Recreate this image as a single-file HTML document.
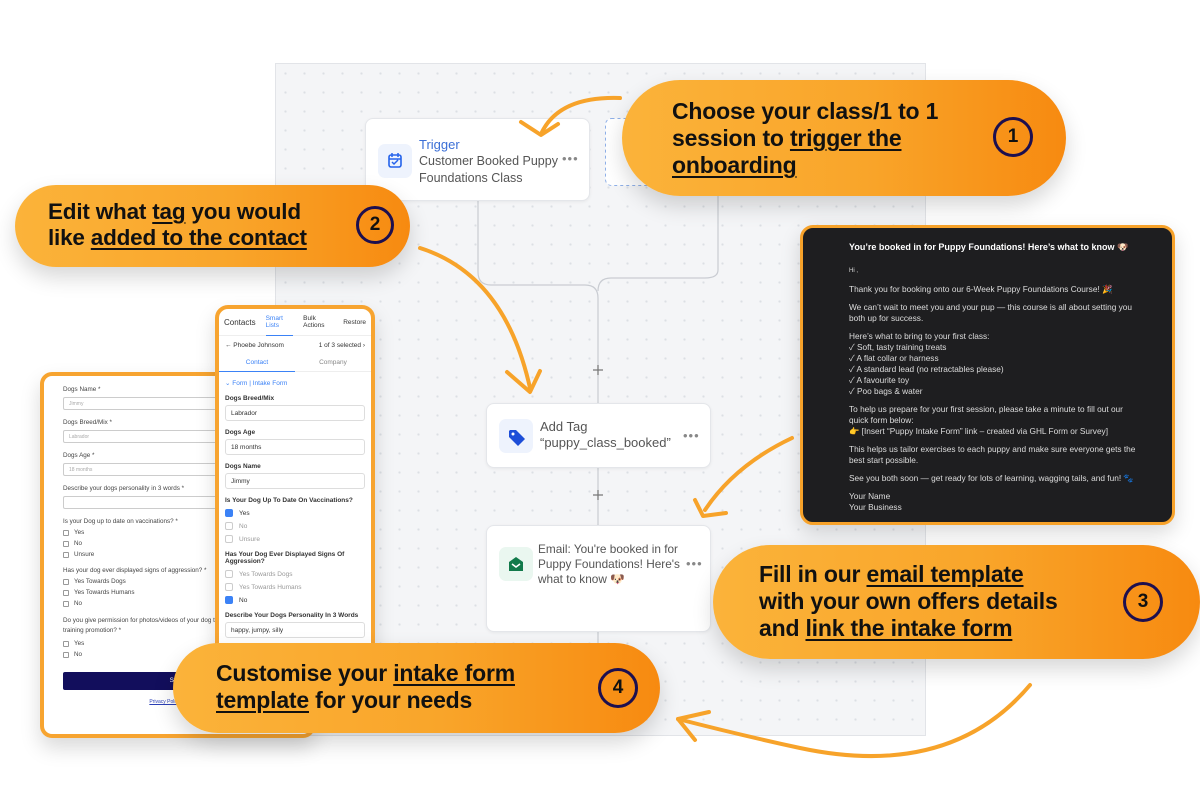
<!DOCTYPE html>
<html><head><meta charset="utf-8"><style>
*{box-sizing:border-box;margin:0;padding:0}
body{width:1200px;height:800px;background:#fff;position:relative;overflow:hidden;font-family:"Liberation Sans","Noto Sans CJK JP",sans-serif}
.abs{position:absolute}
.canvas{left:275px;top:63px;width:651px;height:673px;background-color:#f4f5f7;background-image:radial-gradient(#dcdfe4 1px,transparent 1.3px);background-size:19px 19px;border:1px solid #e2e4e8}
.card{background:#fff;border:1px solid #e4e6ea;border-radius:8px;box-shadow:0 1px 3px rgba(0,0,0,.06)}
.ic{position:absolute;width:34px;height:34px;border-radius:7px;background:#eef3fd}
.ct{position:absolute;font-size:12.5px;color:#555;line-height:17px}
.dots{position:absolute;color:#888;font-size:13px;letter-spacing:1px}
.pill{border-radius:60px;background:linear-gradient(90deg,#fbb33a 0%,#f9a52a 55%,#f78a10 100%);box-shadow:0 10px 22px rgba(0,0,0,.16)}
.pt{position:absolute;font-weight:bold;color:#111;font-size:23px;line-height:27px;letter-spacing:-.2px}
.pt u{text-decoration-thickness:2px;text-underline-offset:3px}
.num{position:absolute;width:40px;height:40px;border:3px solid #1d0f4f;border-radius:50%;text-align:center;font-weight:bold;font-size:19px;line-height:34px;color:#111}
.email{left:800px;top:225px;width:375px;height:300px;background:#1e1e20;border:3px solid #f7a22a;border-radius:13px;color:#ddd;font-size:8.3px;line-height:11px;padding:14px 0 0 46px;box-shadow:0 8px 20px rgba(0,0,0,.15)}
.email p{margin-bottom:7px}
.form{background:#fff;border:4px solid #f7a430;border-radius:12px;font-size:6.3px;color:#444;box-shadow:0 10px 20px rgba(0,0,0,.15)}
.inp{height:13px;border:1px solid #ccc;border-radius:2px;margin:4px 0 9px;font-size:5px;color:#aaa;padding:3px 5px}
.cb{display:flex;align-items:center;gap:5px;margin:4px 0}
.cb i{display:inline-block;width:6px;height:6px;border:1px solid #999;border-radius:1px}
.ph{font-size:6.5px;color:#333}
.ph .l{font-weight:bold;margin:8px 0 3px}
.ph .in{height:16px;border:1px solid #ddd;border-radius:3px;padding:4px 5px;font-size:6.5px}
.ph .c{display:flex;align-items:center;gap:6px;margin:5px 0;color:#999}
.ph .c i{display:inline-block;width:8px;height:8px;border:1px solid #ccc;border-radius:2px}
.ph .c i.on{background:#3b82f6;border-color:#3b82f6}
</style></head><body>

<div class="abs canvas"></div>

<svg class="abs" style="left:0;top:0" width="1200" height="800">
 <g fill="none" stroke="#c9ccd2" stroke-width="1.2">
  <path d="M478 200 V272 Q478 285 491 285 H585 Q598 285 598 298 V720"/>
  <path d="M718 190 V270 Q718 278 705 278 H611 Q598 278 598 291"/>
 </g>
 <g stroke="#777" stroke-width="1.2"><path d="M593 370h10M598 365v10M593 495h10M598 490v10M593 622h10M598 617v10"/></g>
 <rect x="605.5" y="118.5" width="50" height="67" rx="6" fill="#fff" stroke="#8fb0e8" stroke-dasharray="3 3"/>
</svg>

<div class="abs card" style="left:365px;top:118px;width:225px;height:83px">
 <div class="ic" style="left:12px;top:25px"><svg width="34" height="34"><rect x="11" y="11" width="12" height="12" rx="2" fill="none" stroke="#2563eb" stroke-width="1.6"/><path d="M11 15h12M14 9v4M20 9v4M14 18l2 2 4-4" stroke="#2563eb" stroke-width="1.5" fill="none"/></svg></div>
 <div class="ct" style="left:53px;top:17px;color:#3b6fd6;font-size:13px">Trigger</div>
 <div class="ct" style="left:53px;top:34px">Customer Booked Puppy<br>Foundations Class</div>
 <div class="dots" style="left:196px;top:32px">•••</div>
</div>

<div class="abs card" style="left:486px;top:403px;width:225px;height:65px">
 <div class="ic" style="left:12px;top:15px"><svg width="34" height="34"><path d="M10 12v6l9 9 7-7-9-9h-6z" fill="#1d4ed8"/><circle cx="14" cy="15" r="1.5" fill="#fff"/></svg></div>
 <div class="ct" style="left:53px;top:15px;font-size:13px;line-height:16px">Add Tag<br>“puppy_class_booked”</div>
 <div class="dots" style="left:196px;top:24px">•••</div>
</div>

<div class="abs card" style="left:486px;top:525px;width:225px;height:107px">
 <div class="ic" style="left:12px;top:21px;background:#eaf7f0"><svg width="34" height="34"><path d="M10 15l7-5 7 5v9H10z" fill="#127a4b"/><path d="M13 17l4 3 4-3" stroke="#fff" stroke-width="1.5" fill="none"/></svg></div>
 <div class="ct" style="left:51px;top:16px;font-size:11.8px;line-height:15px">Email: You're booked in for<br>Puppy Foundations! Here's<br>what to know 🐶</div>
 <div class="dots" style="left:199px;top:30px">•••</div>
</div>

<div class="abs email">
 <p style="font-weight:bold;font-size:9px;color:#fff;margin-bottom:13px">You’re booked in for Puppy Foundations! Here’s what to know 🐶</p>
 <p style="font-size:6px">Hi ,</p>
 <p>Thank you for booking onto our 6-Week Puppy Foundations Course! 🎉</p>
 <p>We can’t wait to meet you and your pup — this course is all about setting you<br>both up for success.</p>
 <p>Here’s what to bring to your first class:<br>✓ Soft, tasty training treats<br>✓ A flat collar or harness<br>✓ A standard lead (no retractables please)<br>✓ A favourite toy<br>✓ Poo bags &amp; water</p>
 <p>To help us prepare for your first session, please take a minute to fill out our<br>quick form below:<br>👉 [Insert “Puppy Intake Form” link – created via GHL Form or Survey]</p>
 <p>This helps us tailor exercises to each puppy and make sure everyone gets the<br>best start possible.</p>
 <p>See you both soon — get ready for lots of learning, wagging tails, and fun! 🐾</p>
 <p>Your Name<br>Your Business</p>
</div>

<div class="abs form" style="left:40px;top:372px;width:275px;height:366px;padding:10px 0 0 19px">
 <div>Dogs Name *</div><div class="inp" style="width:240px">Jimmy</div>
 <div>Dogs Breed/Mix *</div><div class="inp" style="width:240px">Labrador</div>
 <div>Dogs Age *</div><div class="inp" style="width:240px">18 months</div>
 <div>Describe your dogs personality in 3 words *</div><div class="inp" style="width:240px"></div>
 <div>Is your Dog up to date on vaccinations? *</div>
 <div class="cb"><i></i>Yes</div><div class="cb"><i></i>No</div><div class="cb"><i></i>Unsure</div>
 <div style="margin-top:9px">Has your dog ever displayed signs of aggression? *</div>
 <div class="cb"><i></i>Yes Towards Dogs</div><div class="cb"><i></i>Yes Towards Humans</div><div class="cb"><i></i>No</div>
 <div style="margin-top:9px;line-height:10px">Do you give permission for photos/videos of your dog to be used for<br>training promotion? *</div>
 <div class="cb"><i></i>Yes</div><div class="cb"><i></i>No</div>
 <div style="margin-top:14px;width:245px;height:18px;background:#120e5c;border-radius:2px;color:#fff;text-align:center;line-height:18px">Submit Info</div>
 <div style="margin-top:9px;text-align:center;width:245px;color:#2b3fb5;text-decoration:underline;font-size:5px">Privacy Policy | Terms of Service</div>
</div>

<div class="abs form ph" style="left:215px;top:305px;width:160px;height:360px;border-radius:13px;padding:0 6px;overflow:hidden">
 <div style="display:flex;gap:10px;align-items:center;height:27px;border-bottom:1px solid #eee;margin:0 -6px;padding:0 5px"><span style="font-size:8px">Contacts</span><span style="color:#3b82f6;border-bottom:1px solid #3b82f6;padding:6px 0">Smart Lists</span><span>Bulk Actions</span><span>Restore</span></div>
 <div style="display:flex;justify-content:space-between;height:18px;align-items:center"><span>← Phoebe Johnsom</span><span>1 of 3 selected ›</span></div>
 <div style="display:flex;height:18px;align-items:center;border-bottom:1px solid #eee;margin:0 -6px"><span style="width:50%;text-align:center;color:#3b82f6;border-bottom:1px solid #3b82f6;line-height:17px">Contact</span><span style="width:50%;text-align:center;color:#888">Company</span></div>
 <div style="color:#3b82f6;margin-top:7px">⌄ Form | Intake Form</div>
 <div class="l">Dogs Breed/Mix</div><div class="in">Labrador</div>
 <div class="l">Dogs Age</div><div class="in">18 months</div>
 <div class="l">Dogs Name</div><div class="in">Jimmy</div>
 <div class="l">Is Your Dog Up To Date On Vaccinations?</div>
 <div class="c"><i class="on"></i><span style="color:#333">Yes</span></div><div class="c"><i></i>No</div><div class="c"><i></i>Unsure</div>
 <div class="l">Has Your Dog Ever Displayed Signs Of Aggression?</div>
 <div class="c"><i></i>Yes Towards Dogs</div><div class="c"><i></i>Yes Towards Humans</div><div class="c"><i class="on"></i><span style="color:#333">No</span></div>
 <div class="l">Describe Your Dogs Personality In 3 Words</div><div class="in">happy, jumpy, silly</div>
</div>

<div class="abs pill" style="left:622px;top:80px;width:444px;height:116px"></div>
<div class="pt" style="left:672px;top:98px">Choose your class/1 to 1<br>session to <u>trigger the</u><br><u>onboarding</u></div>
<div class="num" style="left:993px;top:117px">1</div>

<div class="abs pill" style="left:15px;top:185px;width:395px;height:82px"></div>
<div class="pt" style="left:48px;top:199px;font-size:22.5px;line-height:26px">Edit what <u>tag</u> you would<br>like <u>added to the contact</u></div>
<div class="num" style="left:356px;top:206px;width:38px;height:38px;line-height:32px">2</div>

<div class="abs pill" style="left:713px;top:545px;width:487px;height:114px"></div>
<div class="pt" style="left:759px;top:561px">Fill in our <u>email template</u><br>with your own offers details<br>and <u>link the intake form</u></div>
<div class="num" style="left:1123px;top:582px">3</div>

<div class="abs pill" style="left:173px;top:643px;width:487px;height:90px"></div>
<div class="pt" style="left:216px;top:660px">Customise your <u>intake form</u><br><u>template</u> for your needs</div>
<div class="num" style="left:598px;top:668px">4</div>

<svg class="abs" style="left:0;top:0" width="1200" height="800">
 <g fill="none" stroke="#f7a32a" stroke-width="4" stroke-linecap="round" stroke-linejoin="round">
  <path d="M620 98 Q560 96 542 132"/><path d="M521 122 L541 135 L558 124"/>
  <path d="M420 248 Q505 275 530 388"/><path d="M507 372 L530 392 L540 371"/>
  <path d="M792 438 Q735 465 705 510"/><path d="M695 500 L703 516 L726 513"/>
  <path d="M1030 685 Q950 780 800 748 Q740 735 678 719"/><path d="M709 712 L678 719 L695 740"/>
 </g>
</svg>
</body></html>
